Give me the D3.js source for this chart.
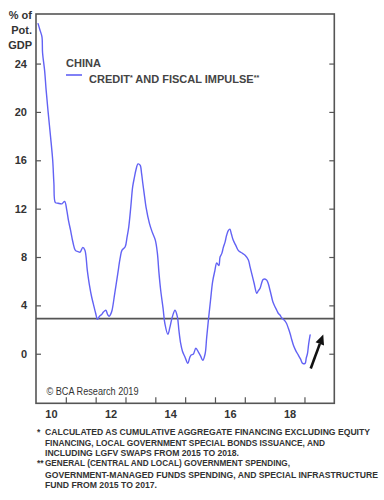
<!DOCTYPE html>
<html>
<head>
<meta charset="utf-8">
<script src="https://cdn.jsdelivr.net/npm/d3@7"></script>
<style>
  html, body { margin: 0; padding: 0; background: #fff; }
  svg { display: block; font-family: "Liberation Sans", Arial, sans-serif; }
</style>
</head>
<body>
<svg id="chart" width="384" height="500"></svg>
<script>
// ---- Data ----
const years = [
  2010.07, 2010.13, 2010.20, 2010.22, 2010.29, 2010.34, 2010.41, 2010.49, 2010.56, 2010.60,
  2010.65, 2010.74, 2010.87, 2010.96, 2011.03, 2011.09, 2011.16, 2011.24, 2011.32, 2011.41,
  2011.48, 2011.57, 2011.64, 2011.72, 2011.79, 2011.87, 2011.92, 2012.00, 2012.06, 2012.13,
  2012.20, 2012.26, 2012.34, 2012.40, 2012.45, 2012.50, 2012.55, 2012.64, 2012.74, 2012.82,
  2012.88, 2012.99, 2013.05, 2013.11, 2013.18, 2013.24, 2013.30, 2013.35, 2013.42, 2013.49,
  2013.54, 2013.58, 2013.64, 2013.69, 2013.80, 2013.89, 2014.00, 2014.07, 2014.12, 2014.18,
  2014.26, 2014.32, 2014.42, 2014.49, 2014.57, 2014.66, 2014.74, 2014.79, 2014.85, 2014.91,
  2014.99, 2015.09, 2015.15, 2015.20, 2015.27, 2015.36, 2015.44, 2015.52, 2015.59, 2015.67,
  2015.72, 2015.78, 2015.85, 2015.92, 2015.99, 2016.06, 2016.13, 2016.17, 2016.23, 2016.28,
  2016.34, 2016.39, 2016.45, 2016.50, 2016.55, 2016.61, 2016.69, 2016.78, 2016.89, 2017.01,
  2017.12, 2017.17, 2017.23, 2017.31, 2017.40, 2017.45, 2017.51, 2017.62, 2017.73, 2017.78,
  2017.82, 2017.88, 2017.94, 2018.00, 2018.07, 2018.12, 2018.18, 2018.24, 2018.29, 2018.35,
  2018.40, 2018.46, 2018.52, 2018.57, 2018.63, 2018.70, 2018.79, 2018.87, 2018.94, 2019.02,
  2019.06, 2019.10, 2019.14, 2019.19
];
const impulse = [
  27.3, 26.8, 26.2, 24.9, 23.4, 21.8, 19.9, 17.9, 16.0, 14.1,
  12.5, 12.45, 12.4, 12.6, 11.9, 11.0, 10.2, 9.2, 8.55, 8.45,
  8.4, 8.8, 8.55, 6.9, 5.7, 4.65, 4.15, 3.35, 2.85, 3.1,
  3.25, 3.45, 3.6, 3.25, 3.1, 3.25, 3.6, 5.0, 6.6, 7.9,
  8.55, 8.85, 9.6, 10.5, 12.2, 13.8, 14.6, 15.2, 15.7, 15.6,
  14.9, 14.1, 13.0, 12.1, 10.8, 10.1, 9.4, 8.3, 6.75, 5.25,
  3.75, 2.5, 1.6, 2.2, 3.05, 3.6, 3.05, 1.95, 0.85, 0.2,
  -0.25, -0.8, -0.35, -0.1, -0.05, 0.45, 0.15, -0.2, -0.55, 0.0,
  1.3, 2.8, 4.4, 5.95, 6.8, 7.5, 7.3, 8.0, 8.3, 8.8,
  9.25, 9.8, 10.2, 10.3, 9.9, 9.4, 9.0, 8.55, 8.35, 8.15,
  7.75, 7.25, 6.65, 5.85, 5.0, 5.2, 5.4, 6.15, 6.1, 5.85,
  5.5, 4.9, 4.3, 3.95, 3.6, 3.35, 3.2, 2.95, 2.85, 2.7,
  2.5, 2.1, 1.65, 1.2, 0.7, 0.3, -0.1, -0.45, -0.8, -0.8,
  -0.35, 0.0, 0.8, 1.55
];
const referenceLevel = 2.9;
const yTicks = [0, 4, 8, 12, 16, 20, 24];
const yearBoundaries = [2011, 2012, 2013, 2014, 2015, 2016, 2017, 2018, 2019];
const xLabelYears = [2010, 2012, 2014, 2016, 2018];
const xLabels = ["10", "12", "14", "16", "18"];
const arrowFrom = [2019.21, -1.22];
const arrowTo = [2019.63, 1.59];
const yUnitLines = ["% of", "Pot.", "GDP"];
const legendTitle = "CHINA";
const seriesName = "CREDIT* AND FISCAL IMPULSE**";
const copyright = "\u00A9 BCA Research 2019";
const footnotes = [
  ["*", "CALCULATED AS CUMULATIVE AGGREGATE FINANCING EXCLUDING EQUITY", 325],
  ["", "FINANCING, LOCAL GOVERNMENT SPECIAL BONDS ISSUANCE, AND", 280],
  ["", "INCLUDING LGFV SWAPS FROM 2015 TO 2018.", 194],
  ["**", "GENERAL (CENTRAL AND LOCAL) GOVERNMENT SPENDING,", 245],
  ["", "GOVERNMENT-MANAGED FUNDS SPENDING, AND SPECIAL INFRASTRUCTURE", 333],
  ["", "FUND FROM 2015 TO 2017.", 112]
];

// ---- Layout ----
const L = 36, T = 14, R = 334.3, B = 403.3;
const ink = "#333";
const frameColor = "#555";
const lineColor = "#6262f4";

const svg = d3.select("#chart");
const x = d3.scaleLinear().domain([2010, 2020]).range([L, R]);
const y = d3.scaleLinear().domain([-4.1, 28.1]).range([B, T]);

// Left axis (ticks inside, labels outside)
const gL = svg.append("g").attr("transform", `translate(${L},0)`)
  .call(d3.axisLeft(y).tickValues(yTicks).tickSize(-5).tickPadding(9).tickFormat(d3.format("d")));
gL.select(".domain").remove();
gL.selectAll(".tick line").attr("stroke", frameColor).attr("stroke-width", 1.2);
gL.selectAll(".tick text").attr("fill", ink).attr("font-size", 11).attr("font-weight", "bold")
  .attr("font-family", "Liberation Sans, Arial, sans-serif");

// Right axis (ticks inside, no labels)
const gR = svg.append("g").attr("transform", `translate(${R},0)`)
  .call(d3.axisRight(y).tickValues(yTicks).tickSize(-5).tickFormat(""));
gR.select(".domain").remove();
gR.selectAll(".tick line").attr("stroke", frameColor).attr("stroke-width", 1.2);

// Bottom axis: year-boundary ticks inside
const gB = svg.append("g").attr("transform", `translate(0,${B})`)
  .call(d3.axisBottom(x).tickValues(yearBoundaries).tickSize(-6).tickFormat(""));
gB.select(".domain").remove();
gB.selectAll(".tick line").attr("stroke", frameColor).attr("stroke-width", 1.2);

// Bottom labels centred on the years
const gBL = svg.append("g").attr("transform", `translate(0,${B})`)
  .call(d3.axisBottom(x.copy().domain([2009.5, 2019.5])).tickValues(xLabelYears).tickSize(0).tickPadding(7)
    .tickFormat((d, i) => xLabels[i]));
gBL.select(".domain").remove();
gBL.selectAll(".tick text").attr("fill", ink).attr("font-size", 11).attr("font-weight", "bold")
  .attr("font-family", "Liberation Sans, Arial, sans-serif");

// Frame
svg.append("rect").attr("x", L).attr("y", T).attr("width", R - L).attr("height", B - T)
  .attr("fill", "none").attr("stroke", frameColor).attr("stroke-width", 1.6);

// Reference horizontal line
svg.append("line").attr("x1", L).attr("x2", R).attr("y1", y(referenceLevel)).attr("y2", y(referenceLevel))
  .attr("stroke", "#555").attr("stroke-width", 1.8);

// Series line
const pts = years.map((yr, i) => [yr, impulse[i]]);
svg.append("path").datum(pts)
  .attr("fill", "none").attr("stroke", lineColor).attr("stroke-width", 1.4)
  .attr("stroke-linejoin", "round").attr("stroke-linecap", "round")
  .attr("d", d3.line().x(d => x(d[0])).y(d => y(d[1])).curve(d3.curveCatmullRom.alpha(0.5)));

// Arrow
const ax1 = x(arrowFrom[0]), ay1 = y(arrowFrom[1]), ax2 = x(arrowTo[0]), ay2 = y(arrowTo[1]);
const ang = Math.atan2(ay2 - ay1, ax2 - ax1);
const headLen = 10, headHalf = 4.5;
const bx = ax2 - headLen * Math.cos(ang), by = ay2 - headLen * Math.sin(ang);
svg.append("line").attr("x1", ax1).attr("y1", ay1).attr("x2", bx).attr("y2", by)
  .attr("stroke", "#111").attr("stroke-width", 2.6);
svg.append("path").attr("fill", "#111")
  .attr("d", `M${ax2},${ay2}L${bx + headHalf * Math.sin(ang)},${by - headHalf * Math.cos(ang)}L${bx - headHalf * Math.sin(ang)},${by + headHalf * Math.cos(ang)}Z`);

// Y unit label
const uy = svg.append("g");
yUnitLines.forEach((t, i) => {
  uy.append("text").attr("x", 32).attr("y", 19 + i * 15).attr("text-anchor", "end")
    .attr("font-size", 11).attr("font-weight", "bold").attr("fill", ink).text(t);
});

// Legend
svg.append("text").attr("x", 66).attr("y", 66.5).attr("font-size", 11).attr("font-weight", "bold")
  .attr("fill", "#444").text(legendTitle);
svg.append("line").attr("x1", 66).attr("x2", 82).attr("y1", 75).attr("y2", 75)
  .attr("stroke", lineColor).attr("stroke-width", 1.6);
const lt = svg.append("text").attr("x", 89).attr("y", 82.5).attr("font-size", 11).attr("font-weight", "bold")
  .attr("fill", "#444");
const parts = seriesName.split(/(\*+)/).filter(s => s.length);
let raised = false;
parts.forEach(p => {
  if (p.startsWith("*")) {
    lt.append("tspan").attr("font-size", 7).attr("dy", -3).text(p);
    raised = true;
  } else {
    lt.append("tspan").attr("dy", raised ? 3 : 0).text(p);
    raised = false;
  }
});

// Copyright
svg.append("text").attr("x", 46.5).attr("y", 394.5).attr("font-size", 10).attr("fill", ink)
  .attr("textLength", 92).attr("lengthAdjust", "spacingAndGlyphs").text(copyright);

// Footnotes
const baseY = [435.3, 445.7, 455.7, 466.3, 477.5, 488.3];
footnotes.forEach((f, i) => {
  if (f[0]) {
    svg.append("text").attr("x", 37).attr("y", baseY[i]).attr("font-size", 8.5).attr("font-weight", "bold")
      .attr("fill", ink).text(f[0]);
  }
  svg.append("text").attr("x", 45).attr("y", baseY[i]).attr("font-size", 8.5).attr("font-weight", "bold")
    .attr("fill", ink).attr("textLength", f[2]).attr("lengthAdjust", "spacingAndGlyphs").text(f[1]);
});
</script>
</body>
</html>
